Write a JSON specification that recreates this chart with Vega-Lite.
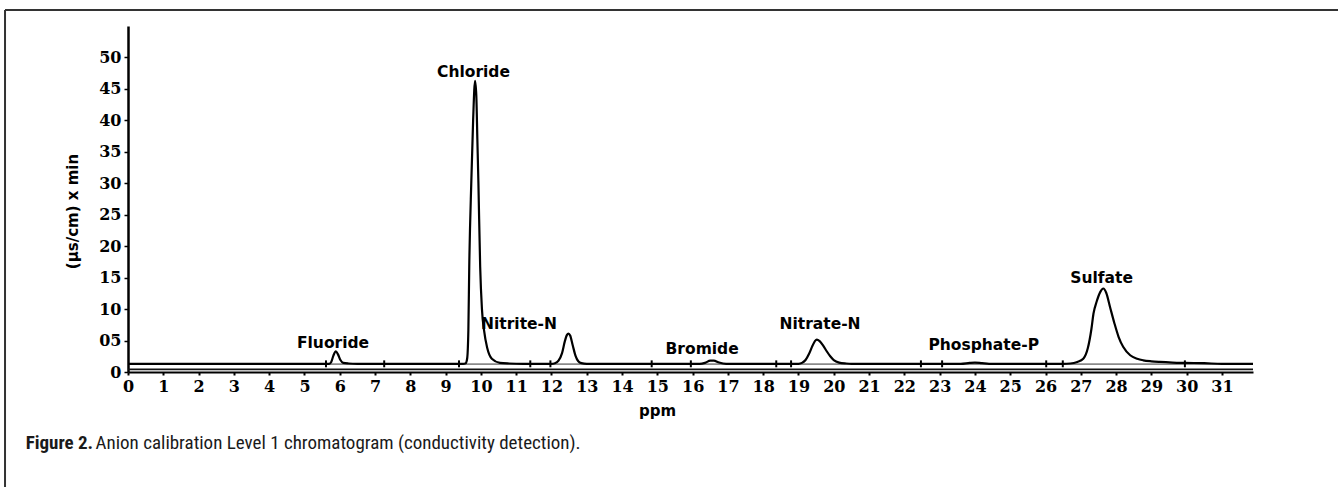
{
  "$schema": "https://vega.github.io/schema/vega-lite/v6.json",
  "width": 1125,
  "height": 346,
  "autosize": {"type": "none"},
  "padding": {"left": 128, "top": 26, "right": 85, "bottom": 115},
  "background": "white",
  "config": {"view": {"stroke": null}},
  "datasets": {
    "trace": [
      {"x": 0, "y": 1.3}, {"x": 5.6, "y": 1.3}, {"x": 5.7, "y": 1.3}, {"x": 5.76, "y": 1.6}, {"x": 5.82, "y": 2.6}, {"x": 5.89, "y": 3.3}, {"x": 5.95, "y": 2.8}, {"x": 6.02, "y": 1.9}, {"x": 6.1, "y": 1.45}, {"x": 6.25, "y": 1.35}, {"x": 6.5, "y": 1.3},
      {"x": 9.5, "y": 1.3}, {"x": 9.57, "y": 1.4}, {"x": 9.61, "y": 2.1}, {"x": 9.645, "y": 6.6}, {"x": 9.67, "y": 16.7}, {"x": 9.73, "y": 30.5}, {"x": 9.78, "y": 40}, {"x": 9.835, "y": 46.3}, {"x": 9.87, "y": 44}, {"x": 9.9, "y": 37}, {"x": 9.93, "y": 30}, {"x": 9.98, "y": 16.7}, {"x": 10.03, "y": 10}, {"x": 10.09, "y": 6.6}, {"x": 10.18, "y": 3.8}, {"x": 10.31, "y": 2.1}, {"x": 10.54, "y": 1.45}, {"x": 10.8, "y": 1.35}, {"x": 11.2, "y": 1.3},
      {"x": 12.0, "y": 1.3}, {"x": 12.1, "y": 1.4}, {"x": 12.2, "y": 1.8}, {"x": 12.3, "y": 3.0}, {"x": 12.38, "y": 4.9}, {"x": 12.44, "y": 5.9}, {"x": 12.48, "y": 6.1}, {"x": 12.53, "y": 5.8}, {"x": 12.6, "y": 4.3}, {"x": 12.68, "y": 2.6}, {"x": 12.76, "y": 1.7}, {"x": 12.85, "y": 1.4}, {"x": 13.0, "y": 1.3},
      {"x": 16.2, "y": 1.3}, {"x": 16.35, "y": 1.45}, {"x": 16.5, "y": 1.8}, {"x": 16.6, "y": 1.8}, {"x": 16.75, "y": 1.5}, {"x": 16.95, "y": 1.3},
      {"x": 19.0, "y": 1.3}, {"x": 19.1, "y": 1.45}, {"x": 19.2, "y": 1.9}, {"x": 19.3, "y": 2.9}, {"x": 19.4, "y": 4.2}, {"x": 19.47, "y": 4.95}, {"x": 19.52, "y": 5.15}, {"x": 19.6, "y": 4.9}, {"x": 19.7, "y": 4.2}, {"x": 19.8, "y": 3.3}, {"x": 19.9, "y": 2.5}, {"x": 20.0, "y": 1.9}, {"x": 20.15, "y": 1.5}, {"x": 20.35, "y": 1.35}, {"x": 20.5, "y": 1.3},
      {"x": 23.6, "y": 1.3}, {"x": 23.85, "y": 1.45}, {"x": 24.0, "y": 1.5}, {"x": 24.2, "y": 1.4}, {"x": 24.4, "y": 1.3},
      {"x": 26.5, "y": 1.3}, {"x": 26.7, "y": 1.35}, {"x": 26.9, "y": 1.6}, {"x": 27.07, "y": 2.1}, {"x": 27.2, "y": 3.8}, {"x": 27.3, "y": 6.8}, {"x": 27.36, "y": 9.3}, {"x": 27.45, "y": 11.2}, {"x": 27.55, "y": 12.7}, {"x": 27.64, "y": 13.27}, {"x": 27.72, "y": 12.6}, {"x": 27.83, "y": 10.3}, {"x": 27.95, "y": 7.8}, {"x": 28.07, "y": 5.6}, {"x": 28.2, "y": 4.0}, {"x": 28.4, "y": 2.66}, {"x": 28.6, "y": 2.1}, {"x": 28.77, "y": 1.86}, {"x": 29.0, "y": 1.7}, {"x": 29.24, "y": 1.6}, {"x": 29.6, "y": 1.5}, {"x": 29.95, "y": 1.45}, {"x": 30.5, "y": 1.4}, {"x": 31.0, "y": 1.3}, {"x": 31.88, "y": 1.3}
    ],
    "ticks": [
      {"x": 5.61, "y": 0.75, "y2": 1.85}, {"x": 7.26, "y": 0.75, "y2": 1.85}, {"x": 9.38, "y": 0.75, "y2": 1.85}, {"x": 11.4, "y": 0.75, "y2": 1.85}, {"x": 11.97, "y": 0.75, "y2": 1.85}, {"x": 14.84, "y": 0.75, "y2": 1.85}, {"x": 15.95, "y": 0.75, "y2": 1.85}, {"x": 18.37, "y": 0.75, "y2": 1.85}, {"x": 18.79, "y": 0.75, "y2": 1.85}, {"x": 22.47, "y": 0.75, "y2": 1.85}, {"x": 23.07, "y": 0.75, "y2": 1.85}, {"x": 26.02, "y": 0.75, "y2": 1.85}, {"x": 26.49, "y": 0.75, "y2": 1.85}, {"x": 29.95, "y": 0.75, "y2": 1.85}
    ],
    "baseline": [
      {"x": 0, "y": 1.25, "x2": 31.88, "y2": 1.25, "kind": "base"},
      {"x": 0, "y": 0.42, "x2": 31.88, "y2": 0.42, "kind": "axis2"}
    ],
    "frame": [
      {"x": -3.485, "y": 57.55, "x2": -3.485, "y2": -22},
      {"x": -3.485, "y": 57.55, "x2": 36, "y2": 57.55}
    ],
    "labels": [
      {"x": 5.81, "y": 3.88, "text": "Fluoride"},
      {"x": 9.79, "y": 46.84, "text": "Chloride"},
      {"x": 11.08, "y": 6.8, "text": "Nitrite-N"},
      {"x": 16.27, "y": 2.93, "text": "Bromide"},
      {"x": 19.61, "y": 6.8, "text": "Nitrate-N"},
      {"x": 24.25, "y": 3.45, "text": "Phosphate-P"},
      {"x": 27.59, "y": 14.22, "text": "Sulfate"}
    ],
    "captionBold": [
      {"x": -2.9, "y": -12.3, "text": "Figure 2."}
    ],
    "caption": [
      {"x": -0.92, "y": -12.3, "text": "Anion calibration Level 1 chromatogram (conductivity detection)."}
    ]
  },
  "encoding": {
    "x": {"field": "x", "type": "quantitative", "scale": {"domain": [0, 31.88], "nice": false, "zero": false}, "axis": {
      "values": [0,1,2,3,4,5,6,7,8,9,10,11,12,13,14,15,16,17,18,19,20,21,22,23,24,25,26,27,28,29,30,31],
      "title": "ppm", "titleFont": "DejaVu Sans", "titleFontWeight": "bold", "titleFontSize": 15, "titleColor": "black",
      "titleX": 529, "titleY": 43, "titleBaseline": "alphabetic", "titleAlign": "center",
      "labelFont": "DejaVu Serif", "labelFontWeight": "bold", "labelFontSize": 16, "labelColor": "black", "labelPadding": 3,
      "labelFlush": false, "labelOverlap": false,
      "domainColor": "black", "domainWidth": 2, "tickColor": "black", "tickSize": 3, "tickWidth": 2, "grid": false
    }},
    "y": {"field": "y", "type": "quantitative", "scale": {"domain": [0, 55], "nice": false, "zero": false}, "axis": {
      "values": [0,5,10,15,20,25,30,35,40,45,50],
      "labelExpr": "datum.value == 5 ? '05' : datum.label",
      "title": "(µs/cm) x min", "titleFont": "DejaVu Sans", "titleFontWeight": "bold", "titleFontSize": 15, "titleColor": "black",
      "titleX": -56, "titleY": 185, "titleAngle": -90, "titleAlign": "center", "titleBaseline": "middle",
      "labelFont": "DejaVu Serif", "labelFontWeight": "bold", "labelFontSize": 16, "labelColor": "black", "labelPadding": 3,
      "labelFlush": false, "labelOverlap": false,
      "domainColor": "black", "domainWidth": 2.5, "tickColor": "black", "tickSize": 4, "tickWidth": 1.5, "grid": false
    }}
  },
  "layer": [
    {
      "data": {"name": "frame"},
      "mark": {"type": "rule", "color": "#333333", "strokeWidth": 2},
      "encoding": {"x2": {"field": "x2"}, "y2": {"field": "y2"}}
    },
    {
      "data": {"name": "baseline"},
      "mark": {"type": "rule", "strokeWidth": 1.6},
      "encoding": {
        "x2": {"field": "x2"},
        "y2": {"field": "y2"},
        "color": {"field": "kind", "type": "nominal", "scale": {"domain": ["base", "axis2"], "range": ["#8a8a8a", "#111111"]}, "legend": null}
      }
    },
    {
      "data": {"name": "trace"},
      "mark": {"type": "line", "color": "black", "strokeWidth": 2.2, "interpolate": "monotone"},
      "encoding": {}
    },
    {
      "data": {"name": "ticks"},
      "mark": {"type": "rule", "color": "black", "strokeWidth": 2},
      "encoding": {"y2": {"field": "y2"}}
    },
    {
      "data": {"name": "labels"},
      "mark": {"type": "text", "font": "DejaVu Sans", "fontWeight": "bold", "fontSize": 15.5, "color": "black", "align": "center", "baseline": "alphabetic"},
      "encoding": {"text": {"field": "text"}}
    },
    {
      "data": {"name": "captionBold"},
      "mark": {"type": "text", "font": "Roboto Condensed, Roboto", "fontWeight": "bold", "fontSize": 19, "color": "#1a1a1a", "align": "left", "baseline": "alphabetic"},
      "encoding": {"text": {"field": "text"}}
    },
    {
      "data": {"name": "caption"},
      "mark": {"type": "text", "font": "Roboto Condensed, Roboto", "fontWeight": "normal", "fontSize": 19, "color": "#1a1a1a", "align": "left", "baseline": "alphabetic"},
      "encoding": {"text": {"field": "text"}}
    }
  ]
}
